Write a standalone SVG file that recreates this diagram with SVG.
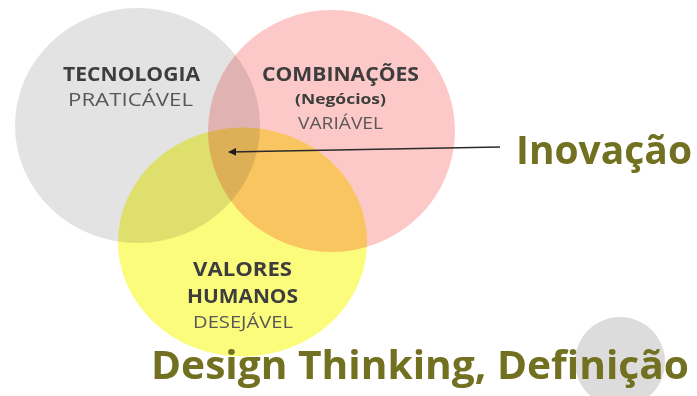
<svg xmlns="http://www.w3.org/2000/svg" width="697" height="396" viewBox="0 0 697 396">
  <style>
    .disc { mix-blend-mode: multiply; }
    .head { font-family: "Open Sans", "DejaVu Sans", sans-serif; font-weight: 700; fill: #3d3d3d; text-anchor: middle; }
    .sub { font-family: "Open Sans", "DejaVu Sans", sans-serif; font-weight: 400; fill: #585858; text-anchor: middle; }
    .title { font-family: "Open Sans", "DejaVu Sans", sans-serif; font-weight: 700; fill: #727021; }
  </style>
  <defs>
    <marker id="arrowhead" viewBox="0 0 10 10" refX="9" refY="5" markerWidth="8" markerHeight="8" markerUnits="userSpaceOnUse" orient="auto">
      <path d="M0,0 L10,5 L0,10 Z" fill="#1e1e1e"/>
    </marker>
  </defs>

  <rect width="697" height="396" fill="#ffffff"/>

  <!-- Venn: technology -->
  <g id="tecnologia">
    <ellipse class="disc" cx="137.5" cy="125.5" rx="122.5" ry="117.5" fill="#e3e3e3"/>
    <text class="head" x="131.5" y="81" font-size="19" textLength="137" lengthAdjust="spacingAndGlyphs">TECNOLOGIA</text>
    <text class="sub" x="130.5" y="106" font-size="18" textLength="125" lengthAdjust="spacingAndGlyphs">PRATICÁVEL</text>
  </g>

  <!-- Venn: business combinations -->
  <g id="combinacoes">
    <ellipse class="disc" cx="331.5" cy="131" rx="123.5" ry="121" fill="#fdc8c8"/>
    <text class="head" x="340.5" y="81" font-size="19" textLength="157" lengthAdjust="spacingAndGlyphs">COMBINAÇÕES</text>
    <text class="head" x="340.5" y="104" font-size="15" textLength="91" lengthAdjust="spacingAndGlyphs">(Negócios)</text>
    <text class="sub" x="340.5" y="129" font-size="16" textLength="85" lengthAdjust="spacingAndGlyphs">VARIÁVEL</text>
  </g>

  <!-- Venn: human values -->
  <g id="valores-humanos">
    <ellipse class="disc" cx="242.5" cy="242" rx="124.5" ry="114.5" fill="#fbfb7c"/>
    <text class="head" x="242.5" y="276" font-size="19" textLength="99" lengthAdjust="spacingAndGlyphs">VALORES</text>
    <text class="head" x="242.5" y="303" font-size="19" textLength="111" lengthAdjust="spacingAndGlyphs">HUMANOS</text>
    <text class="sub" x="243" y="328" font-size="17" textLength="100" lengthAdjust="spacingAndGlyphs">DESEJÁVEL</text>
  </g>

  <!-- decorative grey dot behind the title -->
  <g id="dot">
    <circle cx="620" cy="362" r="45" fill="#dcdcdc"/>
  </g>

  <g id="inovacao">
    <text class="title" x="516" y="164" font-size="40" textLength="176" lengthAdjust="spacingAndGlyphs">Inovação</text>
  </g>

  <g id="titulo">
    <text class="title" x="151" y="379" font-size="39" textLength="538" lengthAdjust="spacingAndGlyphs">Design Thinking, Definição</text>
  </g>

  <!-- connectors -->
  <g id="connectors">
    <line x1="500" y1="147" x2="229" y2="152" stroke="#2a2a2a" stroke-width="1.6" marker-end="url(#arrowhead)"/>
  </g>
</svg>
